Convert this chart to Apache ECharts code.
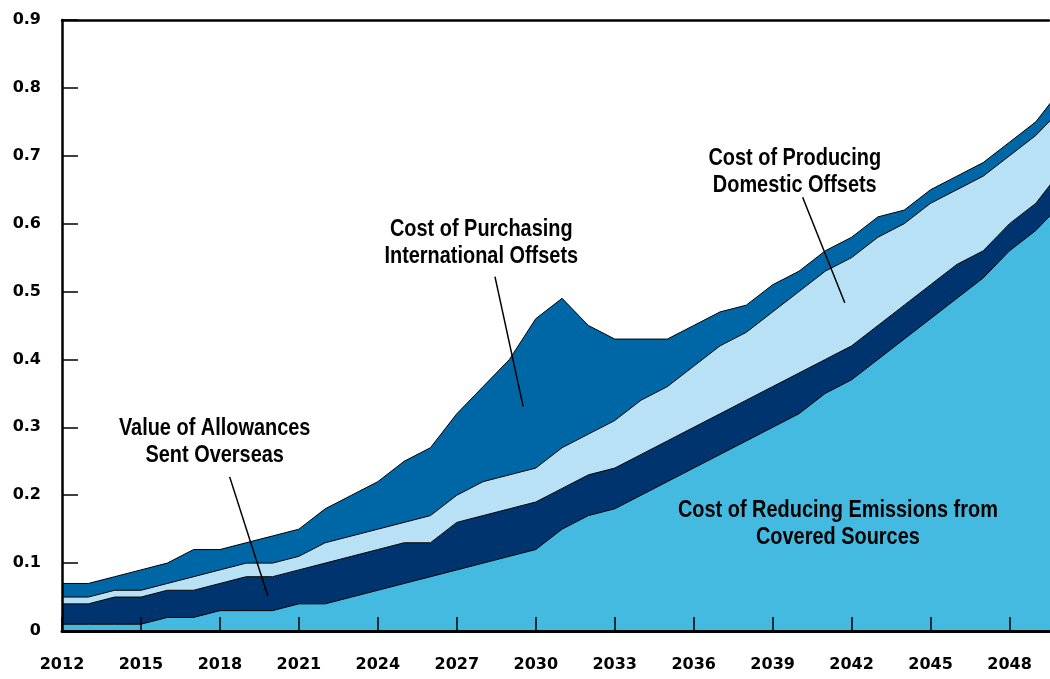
<!DOCTYPE html>
<html>
<head>
<meta charset="utf-8">
<script src="https://cdn.jsdelivr.net/npm/echarts@6/dist/echarts.min.js"></script>
<style>
html,body{margin:0;padding:0;background:#fff;}
#chart{width:1050px;height:679px;}
</style>
</head>
<body>
<div id="chart"></div>
<script>
// Years (x values)
const years = [2012,2013,2014,2015,2016,2017,2018,2019,2020,2021,2022,2023,2024,2025,2026,2027,2028,2029,2030,
  2031,2032,2033,2034,2035,2036,2037,2038,2039,2040,2041,2042,2043,2044,2045,2046,2047,2048,2049,2050];

// Series values (each layer's own thickness; stacked)
const coveredSources = [0.01,0.01,0.01,0.01,0.02,0.02,0.03,0.03,0.03,0.04,0.04,0.05,0.06,0.07,0.08,0.09,0.10,0.11,0.12,
  0.15,0.17,0.18,0.20,0.22,0.24,0.26,0.28,0.30,0.32,0.35,0.37,0.40,0.43,0.46,0.49,0.52,0.56,0.59,0.63];
const allowancesOverseas = [0.03,0.03,0.04,0.04,0.04,0.04,0.04,0.05,0.05,0.05,0.06,0.06,0.06,0.06,0.05,0.07,0.07,0.07,0.07,
  0.06,0.06,0.06,0.06,0.06,0.06,0.06,0.06,0.06,0.06,0.05,0.05,0.05,0.05,0.05,0.05,0.04,0.04,0.04,0.05];
const domesticOffsets = [0.01,0.01,0.01,0.01,0.01,0.02,0.02,0.02,0.02,0.02,0.03,0.03,0.03,0.03,0.04,0.04,0.05,0.05,0.05,
  0.06,0.06,0.07,0.08,0.08,0.09,0.10,0.10,0.11,0.12,0.13,0.13,0.13,0.12,0.12,0.11,0.11,0.10,0.10,0.09];
const internationalOffsets = [0.02,0.02,0.02,0.03,0.03,0.04,0.03,0.03,0.04,0.04,0.05,0.06,0.07,0.09,0.10,0.12,0.14,0.17,0.22,
  0.22,0.16,0.12,0.09,0.07,0.06,0.05,0.04,0.04,0.03,0.03,0.03,0.03,0.02,0.02,0.02,0.02,0.02,0.02,0.03];

const seriesNames = [
  'Cost of Reducing Emissions from Covered Sources',
  'Value of Allowances Sent Overseas',
  'Cost of Producing Domestic Offsets',
  'Cost of Purchasing International Offsets'
];

// Annotation texts
const annotationTexts = [
  'Value of Allowances\nSent Overseas',
  'Cost of Purchasing\nInternational Offsets',
  'Cost of Producing\nDomestic Offsets',
  'Cost of Reducing Emissions from\nCovered Sources'
];
</script>
<script>
const colors = ['#45BAE0', '#00346F', '#B8E1F5', '#0067A7'];
const layers = [coveredSources, allowancesOverseas, domesticOffsets, internationalOffsets];

const chart = echarts.init(document.getElementById('chart'), null, {renderer: 'canvas'});
const axisFont = {fontFamily: 'DejaVu Sans', fontWeight: 'bold', fontSize: 16, color: '#000'};

const option = {
  animation: false,
  backgroundColor: '#fff',
  grid: {left: 62, right: 1, top: 20, bottom: 48, containLabel: false},
  xAxis: [{
    type: 'value', min: 2012, max: 2049.5, interval: 3, z: 10,
    axisLine: {show: true, onZero: false, lineStyle: {color: '#000', width: 3}},
    axisTick: {show: true, inside: true, length: 14, lineStyle: {color: '#000', width: 1.5}},
    axisLabel: Object.assign({margin: 26, showMaxLabel: false, formatter: v => String(Math.round(v))}, axisFont),
    splitLine: {show: false}
  }, {
    type: 'value', position: 'top', min: 2012, max: 2049.5, z: 10,
    axisLine: {show: true, onZero: false, lineStyle: {color: '#000', width: 2.5}},
    axisTick: {show: false}, axisLabel: {show: false}, splitLine: {show: false}
  }],
  yAxis: {
    type: 'value', min: 0, max: 0.9, interval: 0.1, z: 10,
    axisLine: {show: true, lineStyle: {color: '#000', width: 2.5}},
    axisTick: {show: true, inside: true, length: 16, lineStyle: {color: '#000', width: 1.5}},
    axisLabel: Object.assign({margin: 21, formatter: v => v === 0 ? '0' : v.toFixed(1)}, axisFont),
    splitLine: {show: false}
  },
  series: layers.map((vals, i) => ({
    name: seriesNames[i],
    type: 'line',
    stack: 'total',
    xAxisIndex: 0,
    symbol: 'none',
    clip: true,
    lineStyle: {color: '#000', width: 1},
    areaStyle: {color: colors[i], opacity: 1},
    itemStyle: {color: colors[i]},
    z: 2,
    // value first so the stacked dimension is the y value
    encode: {x: 1, y: 0},
    data: years.map((y, k) => [vals[k], y])
  }))
};
chart.setOption(option);

// Annotation placement in data coordinates
const annos = [
  {text: annotationTexts[0], at: [2017.80, 0.278], line: [[2018.37, 0.227], [2019.82, 0.0516]]},
  {text: annotationTexts[1], at: [2027.93, 0.572], line: [[2028.45, 0.522], [2029.52, 0.331]]},
  {text: annotationTexts[2], at: [2039.84, 0.676], line: [[2040.14, 0.639], [2041.74, 0.4836]]},
  {text: annotationTexts[3], at: [2041.48, 0.158], line: null}
];
const px = p => chart.convertToPixel({xAxisIndex: 0, yAxisIndex: 0}, p);
const graphics = [];
annos.forEach(a => {
  const c = px(a.at);
  graphics.push({
    type: 'text', x: c[0], y: c[1], z: 100, scaleX: 0.83, scaleY: 1,
    style: {
      text: a.text, textAlign: 'center', textVerticalAlign: 'middle',
      font: 'bold 24px "Liberation Sans", Arial, sans-serif',
      lineHeight: 27, fill: '#000'
    }
  });
  if (a.line) {
    const p1 = px(a.line[0]), p2 = px(a.line[1]);
    graphics.push({
      type: 'line', z: 100,
      shape: {x1: p1[0], y1: p1[1], x2: p2[0], y2: p2[1]},
      style: {stroke: '#000', lineWidth: 1.5}
    });
  }
});
chart.setOption({graphic: graphics});
</script>
</body>
</html>
